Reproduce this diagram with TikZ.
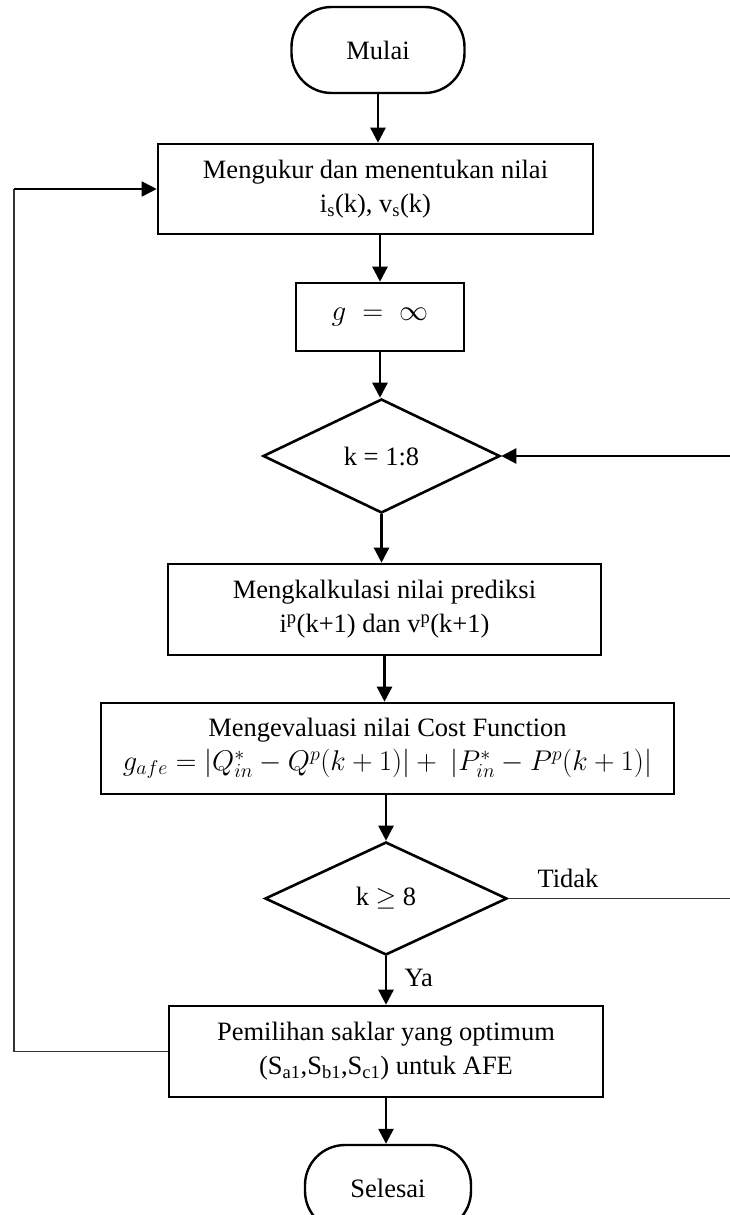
\RequirePackage{fix-cm}
\documentclass[tikz,border=0pt]{standalone}
\usepackage{fontspec}
\setmainfont{Liberation Serif}
\usetikzlibrary{arrows.meta,shapes.geometric}
\begin{document}
\begin{tikzpicture}[x=1pt,y=-1pt,
  every node/.style={font=\fontsize{26.5}{34}\selectfont, align=center},
  proc/.style={draw, line width=2.6pt, rectangle, inner sep=0pt},
  term/.style={draw, line width=2.4pt, rectangle, rounded corners=40pt, inner sep=0pt},
  dec/.style={draw, line width=2.6pt, diamond, inner sep=0pt},
  flow/.style={line width=2.5pt, -{Triangle[length=15pt,width=15pt]}},
  thinline/.style={line width=1.2pt, draw=black!80},
]
\useasboundingbox (0,0) rectangle (730,1215);
\clip (0,0) rectangle (730,1215);
\node[term, minimum width=173pt, minimum height=86pt] (start) at (378,50) {Mulai};
\node[proc, minimum width=435pt, minimum height=90pt] (meas) at (375.5,189) {Mengukur dan menentukan nilai\\ i\textsubscript{s}(k), v\textsubscript{s}(k)};
\node[proc, minimum width=168pt, minimum height=68pt] (ginit) at (380,317) {\fontsize{29}{34}\selectfont$g\;=\;\infty$};
\node[dec, minimum width=237pt, minimum height=114pt] (loop) at (381.5,456) {k = 1:8};
\node[proc, minimum width=433pt, minimum height=91pt] (pred) at (384.5,609.5) {Mengkalkulasi nilai prediksi\\ i\textsuperscript{p}(k+1) dan v\textsuperscript{p}(k+1)};
\node[proc, minimum width=573pt, minimum height=91pt] (cost) at (387.5,748.5) {Mengevaluasi nilai Cost Function\\ {\fontsize{28.5}{34}\selectfont$g_{afe} = |Q^{*}_{in} - Q^{p}(k+1)| + \ |P^{*}_{in} - P^{p}(k+1)|$}};
\node[dec, minimum width=242pt, minimum height=113pt] (chk) at (386,898.5) {k $\geq$ 8};
\node[proc, minimum width=434pt, minimum height=91pt] (sel) at (386,1051.5) {Pemilihan saklar yang optimum\\ (S\textsubscript{a1},S\textsubscript{b1},S\textsubscript{c1}) untuk AFE};
\node[term, minimum width=166pt, minimum height=86pt] (end) at (388,1188) {Selesai};
\node[anchor=west] (ya) at (401,978) {Ya};
\node (tidak) at (568,878) {Tidak};
\coordinate (rx) at (736,0);
\coordinate (lx) at (14,0);
\draw[flow] (start.south) -- (start.south |- meas.north);
\draw[flow] (meas.south -| ginit.north) -- (ginit.north);
\draw[flow] (ginit.south) -- (ginit.south |- loop.north);
\draw[flow] (loop.south) -- (loop.south |- pred.north);
\draw[flow] (pred.south) -- (pred.south |- cost.north);
\draw[flow] (cost.south -| chk.north) -- (chk.north);
\draw[flow] (chk.south) -- (sel.north);
\draw[flow] (sel.south) -- (sel.south |- end.north);
\draw[thinline] (chk.east) -- (chk.east -| rx) -- (rx |- loop.east);
\draw[flow] (rx |- loop.east) -- (loop.east);
\draw[thinline] (sel.west) -- (sel.west -| lx) -- (lx |- meas.west);
\draw[flow, line width=1.8pt] (lx |- meas.west) -- (meas.west);
\end{tikzpicture}
\end{document}
